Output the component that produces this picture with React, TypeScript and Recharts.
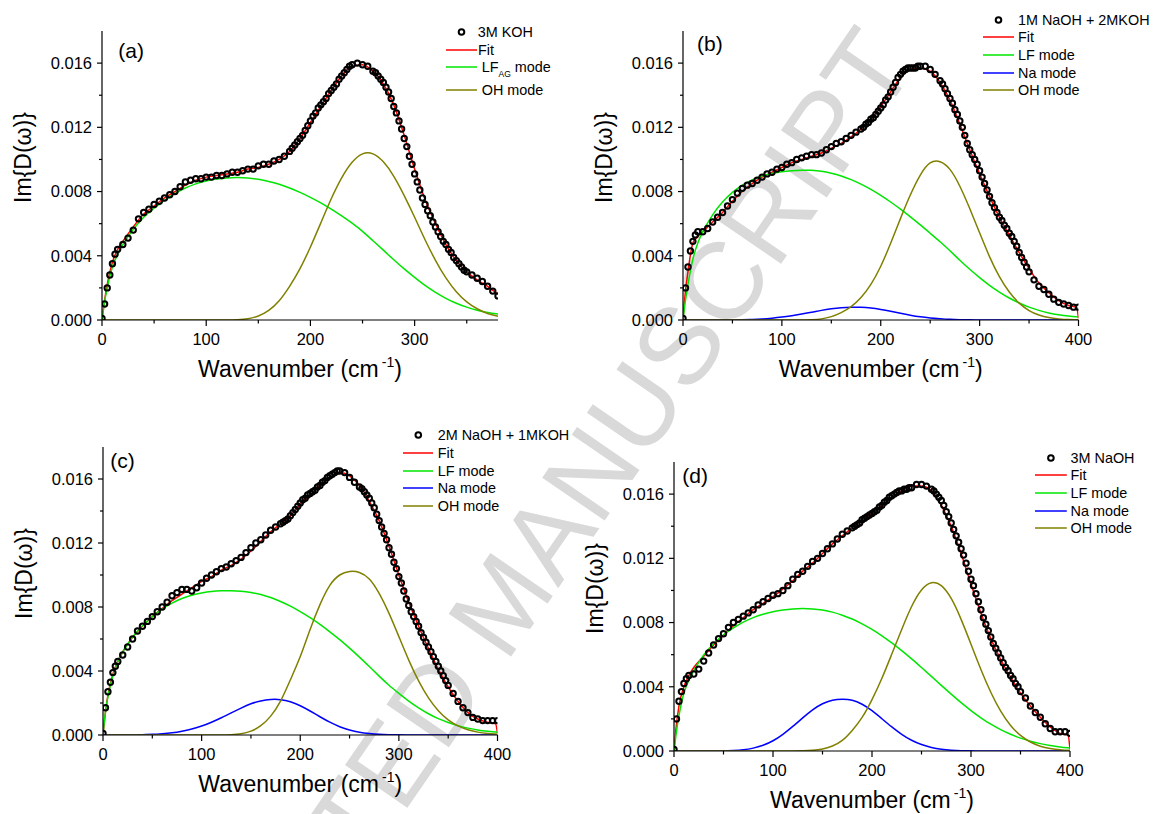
import React from "react";
import { ComposedChart, Scatter, Line, XAxis, YAxis, Label } from "recharts";

const FONT = "'Liberation Sans', Arial, sans-serif";

// x positions of the measured points (cm-1); denser where the spectra are steep
const dataGrid = [
  0, 2.5, 5, 7.5, 10, 12.5, 15,
  20, 25, 30, 35, 40, 45, 50, 55, 60, 65, 70, 75, 80, 85, 90, 95,
  100, 105, 110, 115, 120, 125, 130, 135, 140, 145, 150, 155, 160, 165, 170, 175,
  180, 182.5, 185, 187.5, 190, 192.5, 195, 197.5, 200, 202.5, 205, 207.5, 210, 212.5, 215, 217.5,
  220, 222.5, 225, 227.5, 230, 232.5, 235, 237.5, 240,
  245, 250, 255,
  260, 262.5, 265, 267.5, 270, 272.5, 275, 277.5, 280, 282.5, 285, 287.5, 290, 292.5, 295, 297.5,
  300, 302.5, 305, 307.5, 310, 312.5, 315, 317.5, 320, 322.5, 325, 327.5, 330, 332.5, 335, 337.5,
  340, 342.5, 345, 347.5, 350,
  355, 360, 365, 370, 375, 380, 385, 390, 395, 400,
];
// x positions of the fitted curves
const lineGridA = [
  0, 2, 5, 10, 15, 20,
  30, 40, 50, 60, 70, 80, 90, 100, 110, 120,
  130, 140, 150, 160, 170, 180, 190, 200, 210, 220,
  230, 240, 250, 260, 270, 280, 290, 300, 310, 320,
  330, 340, 350, 360, 370, 380,
];
const lineGrid = [
  0, 2, 5, 10, 15, 20,
  30, 40, 50, 60, 70, 80, 90, 100, 110, 120,
  130, 140, 150, 160, 170, 180, 190, 200, 210, 220,
  230, 240, 250, 260, 270, 280, 290, 300, 310, 320,
  330, 340, 350, 360, 370, 380, 390, 398, 400,
];

// (a) 3M KOH  (measured up to 380 cm-1)
const kohData = [
  0.0001, 0.0010, 0.0020, 0.0028, 0.0035, 0.0041, 0.0044,
  0.0047, 0.0051, 0.0056, 0.0063, 0.0067, 0.0069, 0.0072, 0.0074, 0.0076, 0.0078, 0.0080, 0.0083, 0.0086, 0.0087, 0.0088, 0.0088,
  0.0089, 0.0089, 0.0090, 0.0090, 0.0091, 0.0092, 0.0092, 0.0093, 0.0094, 0.0094, 0.0096, 0.0097, 0.0097, 0.0099, 0.0100, 0.0102,
  0.0105, 0.0107, 0.0109, 0.0111, 0.0113, 0.0115, 0.0118, 0.0121, 0.0124, 0.0127, 0.0129, 0.0132, 0.0134, 0.0136, 0.0138, 0.0141,
  0.0143, 0.0145, 0.0147, 0.0150, 0.0152, 0.0154, 0.0156, 0.0158, 0.0159,
  0.0160, 0.0159, 0.0158,
  0.0155, 0.0154, 0.0152, 0.0150, 0.0148, 0.0145, 0.0142, 0.0138, 0.0133, 0.0129, 0.0124, 0.0119, 0.0113, 0.0108, 0.0102, 0.0097,
  0.0091, 0.0086, 0.0081, 0.0076, 0.0072, 0.0068, 0.0065, 0.0061, 0.0058, 0.0055, 0.0052, 0.0049, 0.0047, 0.0044, 0.0042, 0.0039,
  0.0037, 0.0035, 0.0033, 0.0031, 0.0030,
  0.0028, 0.0026, 0.0024, 0.0021, 0.0018, 0.0015,
];
const kohFit = [
  0, 0.0010, 0.0022, 0.0036, 0.0044, 0.0049,
  0.0058, 0.0066, 0.0071, 0.0076, 0.0080, 0.0084, 0.0087, 0.0089, 0.0090, 0.0091,
  0.0092, 0.0094, 0.0095, 0.0097, 0.0100, 0.0105, 0.0113, 0.0123, 0.0133, 0.0143,
  0.0152, 0.0158, 0.0159, 0.0155, 0.0147, 0.0134, 0.0115, 0.0094, 0.0075, 0.0060,
  0.0047, 0.0037, 0.0030, 0.0025, 0.0021, 0.0016,
];
const kohLF = [
  0, 0.00095, 0.0020, 0.0033, 0.0041, 0.0047,
  0.00565, 0.0064, 0.00697, 0.00745, 0.00788, 0.00822, 0.00848, 0.00866, 0.00878, 0.00885,
  0.00887, 0.00884, 0.00876, 0.00863, 0.00845, 0.00822, 0.00795, 0.00764, 0.00729, 0.0069,
  0.00648, 0.00603, 0.00552, 0.00494, 0.00435, 0.00375, 0.00318, 0.00265, 0.00215, 0.00172,
  0.00135, 0.00104, 0.0008, 0.00061, 0.00047, 0.00037,
];
const kohOH = [
  0, 0, 0, 0, 0, 0,
  0, 0, 0, 0, 0, 0, 0, 0, 0, 0,
  0.00002, 0.00008, 0.00025, 0.0006, 0.0012, 0.0021, 0.0032, 0.00455, 0.00605, 0.00755,
  0.00885, 0.00982, 0.01035, 0.01035, 0.00985, 0.00895, 0.00775, 0.0064, 0.005, 0.00372,
  0.00262, 0.00176, 0.00113, 0.0007, 0.00041, 0.00023,
];

// (b) 1M NaOH + 2M KOH
const na1Data = [
  0.0001, 0.0020, 0.0033, 0.0043, 0.0049, 0.0053, 0.0055,
  0.0055, 0.0057, 0.0061, 0.0064, 0.0067, 0.0071, 0.0075, 0.0079, 0.0082, 0.0084, 0.0085, 0.0087, 0.0089, 0.0091, 0.0092, 0.0094,
  0.0095, 0.0097, 0.0098, 0.0100, 0.0101, 0.0102, 0.0103, 0.0103, 0.0104, 0.0106, 0.0108, 0.0110, 0.0111, 0.0113, 0.0115, 0.0117,
  0.0119, 0.0120, 0.0122, 0.0123, 0.0125, 0.0126, 0.0128, 0.0130, 0.0132, 0.0134, 0.0137, 0.0139, 0.0142, 0.0145, 0.0148, 0.0151,
  0.0153, 0.0155, 0.0156, 0.0157, 0.0157, 0.0157, 0.0157, 0.0158, 0.0158,
  0.0158, 0.0156, 0.0153,
  0.0149, 0.0147, 0.0144, 0.0141, 0.0138, 0.0135, 0.0131, 0.0128, 0.0124, 0.0120, 0.0115, 0.0110, 0.0106, 0.0103, 0.0100, 0.0097,
  0.0093, 0.0089, 0.0085, 0.0081, 0.0077, 0.0073, 0.0070, 0.0067, 0.0064, 0.0062, 0.0059, 0.0057, 0.0054, 0.0052, 0.0049, 0.0046,
  0.0042, 0.0039, 0.0036, 0.0033, 0.0030,
  0.0025, 0.0021, 0.0019, 0.0016, 0.0013, 0.0011, 0.0010, 0.0009, 0.0008, 0.0008,
];
const na1Fit = [
  0, 0.0015, 0.0030, 0.0048, 0.0052, 0.0055,
  0.0061, 0.0067, 0.0074, 0.0080, 0.0085, 0.0089, 0.0092, 0.0095, 0.0098, 0.0100,
  0.0102, 0.0104, 0.0107, 0.0110, 0.0114, 0.0119, 0.0125, 0.0133, 0.0142, 0.0151,
  0.0156, 0.0157, 0.0155, 0.0148, 0.0137, 0.0122, 0.0106, 0.0091, 0.0077, 0.0064,
  0.0053, 0.0042, 0.0032, 0.0023, 0.0017, 0.0012, 0.0009, 0.0008, 0.0001,
];
const na1LF = [
  0, 0.001, 0.0022, 0.0038, 0.0048, 0.0055,
  0.00655, 0.00735, 0.00795, 0.0084, 0.00873, 0.00897, 0.00913, 0.00924, 0.0093, 0.00933,
  0.00932, 0.00926, 0.00914, 0.00897, 0.00874, 0.00846, 0.00813, 0.00776, 0.00735, 0.0069,
  0.00642, 0.00592, 0.0054, 0.00487, 0.00431, 0.00372, 0.00316, 0.00264, 0.00216, 0.00174,
  0.00137, 0.00106, 0.0008, 0.0006, 0.00044, 0.00033, 0.00025, 0.0002, 0.00019,
];
const na1Na = [
  0, 0, 0, 0, 0, 0,
  0, 0, 0, 0.00001, 0.00003, 0.00006, 0.00011, 0.00018, 0.00027, 0.00037,
  0.00048, 0.0006, 0.0007, 0.00077, 0.0008, 0.00079, 0.00074, 0.00065, 0.00054, 0.00042,
  0.0003, 0.0002, 0.00013, 0.00008, 0.00004, 0.00002, 0.00001, 0, 0, 0,
  0, 0, 0, 0, 0, 0, 0, 0, 0,
];
const na1OH = [
  0, 0, 0, 0, 0, 0,
  0, 0, 0, 0, 0, 0, 0, 0, 0, 0,
  0.00002, 0.00007, 0.00021, 0.00046, 0.00083, 0.0014, 0.00222, 0.00335, 0.00478, 0.00633,
  0.0078, 0.00903, 0.00978, 0.00986, 0.00938, 0.00833, 0.00694, 0.00543, 0.00395, 0.0027,
  0.00174, 0.00105, 0.00059, 0.00031, 0.00015, 0.00007, 0.00003, 0.00002, 0.00001,
];

// (c) 2M NaOH + 1M KOH
const na2Data = [
  0.0001, 0.0017, 0.0027, 0.0033, 0.0039, 0.0043, 0.0046,
  0.0050, 0.0055, 0.0060, 0.0065, 0.0068, 0.0071, 0.0074, 0.0077, 0.0080, 0.0083, 0.0087, 0.0089, 0.0091, 0.0091, 0.0090, 0.0092,
  0.0095, 0.0098, 0.0100, 0.0102, 0.0104, 0.0105, 0.0107, 0.0109, 0.0111, 0.0114, 0.0117, 0.0120, 0.0122, 0.0125, 0.0128, 0.0130,
  0.0132, 0.0133, 0.0134, 0.0135, 0.0137, 0.0139, 0.0141, 0.0143, 0.0145, 0.0147, 0.0148, 0.0150, 0.0151, 0.0152, 0.0153, 0.0155,
  0.0156, 0.0158, 0.0159, 0.0161, 0.0162, 0.0163, 0.0164, 0.0165, 0.0165,
  0.0164, 0.0161, 0.0158,
  0.0155, 0.0154, 0.0152, 0.0150, 0.0148, 0.0145, 0.0142, 0.0138, 0.0134, 0.0130, 0.0126, 0.0122, 0.0117, 0.0113, 0.0108, 0.0104,
  0.0099, 0.0095, 0.0090, 0.0085, 0.0081, 0.0077, 0.0074, 0.0071, 0.0068, 0.0064, 0.0061, 0.0058, 0.0055, 0.0052, 0.0049, 0.0046,
  0.0043, 0.0040, 0.0037, 0.0034, 0.0031,
  0.0026, 0.0021, 0.0017, 0.0014, 0.0011, 0.0010, 0.0009, 0.0009, 0.0009, 0.0009,
];
const na2Fit = [
  0, 0.0012, 0.0025, 0.0038, 0.0046, 0.0052,
  0.0061, 0.0068, 0.0074, 0.0079, 0.0084, 0.0088, 0.0092, 0.0096, 0.0099, 0.0103,
  0.0106, 0.0110, 0.0115, 0.0121, 0.0127, 0.0132, 0.0137, 0.0144, 0.0150, 0.0156,
  0.0161, 0.0164, 0.0162, 0.0156, 0.0146, 0.0134, 0.0118, 0.0100, 0.0083, 0.0068,
  0.0054, 0.0041, 0.0030, 0.0021, 0.0014, 0.0010, 0.0008, 0.0007, 0.0001,
];
const na2LF = [
  0, 0.0012, 0.0024, 0.0037, 0.0046, 0.0052,
  0.00612, 0.00683, 0.0074, 0.00787, 0.00824, 0.00853, 0.00874, 0.00888, 0.00897, 0.00901,
  0.00902, 0.00899, 0.00891, 0.00878, 0.00859, 0.00834, 0.00805, 0.00771, 0.00733, 0.00691,
  0.00645, 0.00596, 0.00543, 0.00487, 0.00428, 0.00368, 0.00311, 0.0026, 0.00212, 0.0017,
  0.00133, 0.00102, 0.00078, 0.00058, 0.00043, 0.00031, 0.00023, 0.00018, 0.00017,
];
const na2Na = [
  0, 0, 0, 0, 0, 0,
  0, 0.00002, 0.00004, 0.00008, 0.00014, 0.00024, 0.00038, 0.00056, 0.0008, 0.00108,
  0.00138, 0.00168, 0.00195, 0.00213, 0.00222, 0.00221, 0.00208, 0.00183, 0.0015, 0.00114,
  0.0008, 0.00052, 0.00031, 0.00017, 0.00009, 0.00004, 0.00002, 0.00001, 0, 0,
  0, 0, 0, 0, 0, 0, 0, 0, 0,
];
const na2OH = [
  0, 0, 0, 0, 0, 0,
  0, 0, 0, 0, 0, 0, 0, 0, 0, 0,
  0.00002, 0.00008, 0.00024, 0.00058, 0.00118, 0.00212, 0.00345, 0.0049, 0.0066, 0.00815,
  0.00935, 0.01, 0.01022, 0.01016, 0.00975, 0.00885, 0.0076, 0.00615, 0.00468, 0.00338,
  0.00232, 0.00152, 0.00095, 0.00057, 0.00033, 0.00018, 0.0001, 0.00006, 0.00005,
];

// (d) 3M NaOH
const naData = [
  0.0001, 0.0020, 0.0031, 0.0037, 0.0042, 0.0045, 0.0047,
  0.0048, 0.0051, 0.0056, 0.0061, 0.0066, 0.0070, 0.0073, 0.0077, 0.0080, 0.0082, 0.0084, 0.0086, 0.0088, 0.0091, 0.0093, 0.0095,
  0.0097, 0.0098, 0.0100, 0.0103, 0.0107, 0.0110, 0.0112, 0.0115, 0.0118, 0.0120, 0.0123, 0.0126, 0.0129, 0.0132, 0.0135, 0.0137,
  0.0139, 0.0140, 0.0141, 0.0142, 0.0144, 0.0145, 0.0146, 0.0147, 0.0148, 0.0149, 0.0150, 0.0152, 0.0153, 0.0155, 0.0156, 0.0158,
  0.0159, 0.0160, 0.0161, 0.0162, 0.0162, 0.0163, 0.0163, 0.0164, 0.0164,
  0.0166, 0.0166, 0.0165,
  0.0163, 0.0162, 0.0160, 0.0158, 0.0156, 0.0153, 0.0149, 0.0146, 0.0142, 0.0138, 0.0134, 0.0130, 0.0126, 0.0122, 0.0117, 0.0112,
  0.0107, 0.0103, 0.0098, 0.0093, 0.0088, 0.0083, 0.0079, 0.0075, 0.0071, 0.0067, 0.0064, 0.0061, 0.0058, 0.0055, 0.0052, 0.0050,
  0.0047, 0.0045, 0.0042, 0.0040, 0.0037,
  0.0033, 0.0028, 0.0024, 0.0021, 0.0017, 0.0014, 0.0012, 0.0012, 0.0012, 0.0011,
];
const naFit = [
  0, 0.0014, 0.0028, 0.0040, 0.0047, 0.0052,
  0.0059, 0.0066, 0.0072, 0.0078, 0.0083, 0.0088, 0.0092, 0.0096, 0.0101, 0.0106,
  0.0112, 0.0117, 0.0123, 0.0129, 0.0134, 0.0139, 0.0144, 0.0148, 0.0153, 0.0158,
  0.0162, 0.0165, 0.0165, 0.0162, 0.0153, 0.0140, 0.0123, 0.0104, 0.0086, 0.0070,
  0.0057, 0.0046, 0.0036, 0.0028, 0.0021, 0.0015, 0.0011, 0.0010, 0.0001,
];
const naLF = [
  0, 0.001, 0.0022, 0.0036, 0.0044, 0.005,
  0.00598, 0.00668, 0.00723, 0.00767, 0.00803, 0.00831, 0.00852, 0.00867, 0.00878, 0.00885,
  0.00887, 0.00885, 0.00878, 0.00865, 0.00846, 0.00822, 0.00792, 0.00757, 0.00717, 0.00673,
  0.00625, 0.00574, 0.0052, 0.00465, 0.00409, 0.00354, 0.00301, 0.00252, 0.00207, 0.00167,
  0.00133, 0.00104, 0.0008, 0.00061, 0.00046, 0.00034, 0.00025, 0.0002, 0.00019,
];
const naNa = [
  0, 0, 0, 0, 0, 0,
  0, 0, 0, 0.00003, 0.00008, 0.00018, 0.00036, 0.00064, 0.00104, 0.00153,
  0.00206, 0.00256, 0.00294, 0.00316, 0.00322, 0.00316, 0.00291, 0.00251, 0.00201, 0.0015,
  0.00104, 0.00067, 0.0004, 0.00022, 0.00011, 0.00005, 0.00002, 0.00001, 0, 0,
  0, 0, 0, 0, 0, 0, 0, 0, 0,
];
const naOH = [
  0, 0, 0, 0, 0, 0,
  0, 0, 0, 0, 0, 0, 0, 0, 0, 0,
  0.00001, 0.00004, 0.00012, 0.00031, 0.00066, 0.00128, 0.00209, 0.0032, 0.00453, 0.00604,
  0.00757, 0.009, 0.01003, 0.01048, 0.0103, 0.0095, 0.0082, 0.00665, 0.00508, 0.00366,
  0.00248, 0.00159, 0.00097, 0.00056, 0.0003, 0.00016, 0.00008, 0.00004, 0.00004,
];

const yTicks = [0, 0.002, 0.004, 0.006, 0.008, 0.01, 0.012, 0.014, 0.016];
const xTicksA = [0, 50, 100, 150, 200, 250, 300, 350];
const xTicks = [0, 50, 100, 150, 200, 250, 300, 350, 400];

const RED = "#ff0000";
const GREEN = "#00e600";
const BLUE = "#0000ff";
const OLIVE = "#808000";

// pairs x values with y values (the shorter list wins)
const toPoints = (xs: number[], ys: number[]) =>
  ys.map((y, i) => ({ x: xs[i], y }));

const LEFT_PAD = 100;
const TOP_PAD = 40;
const RIGHT_PAD = 20;
const BOTTOM_PAD = 75;

type Curve = { name: string; color: string; values: number[]; smooth: "monotone" | "natural" };
type LegendItem = { kind: "dot" | "line"; color: string; label: React.ReactNode };
type PanelSpec = {
  key: string;
  letter: string;
  plot: [number, number, number, number]; // left, top, width, height (page px)
  letterAt: [number, number];
  xMax: number;
  xTicks: number[];
  dataY: number[];
  lineX: number[];
  curves: Curve[];
  legend: { iconLeft: number; iconWidth: number; textLeft: number[]; rows: number[]; items: LegendItem[] };
};

const lfAg = (
  <>
    LF<span style={{ fontSize: 8.5, position: "relative", top: 5 }}>AG</span> mode
  </>
);

const panels: PanelSpec[] = [
  {
    key: "a",
    letter: "(a)",
    plot: [102, 31, 396, 289],
    letterAt: [118.3, 57.5],
    xMax: 380,
    xTicks: xTicksA,
    dataY: kohData,
    lineX: lineGridA,
    curves: [
      { name: "Fit", color: RED, values: kohFit, smooth: "monotone" },
      { name: "LF", color: GREEN, values: kohLF, smooth: "natural" },
      { name: "OH", color: OLIVE, values: kohOH, smooth: "natural" },
    ],
    legend: {
      iconLeft: 445.7,
      iconWidth: 31,
      textLeft: [477.7, 478, 481.7, 481.7],
      rows: [32.3, 50, 67, 90],
      items: [
        { kind: "dot", color: "#000", label: "3M KOH" },
        { kind: "line", color: RED, label: "Fit" },
        { kind: "line", color: GREEN, label: lfAg },
        { kind: "line", color: OLIVE, label: "OH mode" },
      ],
    },
  },
  {
    key: "b",
    letter: "(b)",
    plot: [682.5, 31, 395.5, 289],
    letterAt: [696.5, 51],
    xMax: 400,
    xTicks,
    dataY: na1Data,
    lineX: lineGrid,
    curves: [
      { name: "Fit", color: RED, values: na1Fit, smooth: "monotone" },
      { name: "LF", color: GREEN, values: na1LF, smooth: "natural" },
      { name: "Na", color: BLUE, values: na1Na, smooth: "natural" },
      { name: "OH", color: OLIVE, values: na1OH, smooth: "natural" },
    ],
    legend: {
      iconLeft: 982.6,
      iconWidth: 31,
      textLeft: [1018, 1018, 1018, 1018, 1018],
      rows: [20, 36.7, 55, 72.7, 90],
      items: [
        { kind: "dot", color: "#000", label: "1M NaOH + 2MKOH" },
        { kind: "line", color: RED, label: "Fit" },
        { kind: "line", color: GREEN, label: "LF mode" },
        { kind: "line", color: BLUE, label: "Na mode" },
        { kind: "line", color: OLIVE, label: "OH mode" },
      ],
    },
  },
  {
    key: "c",
    letter: "(c)",
    plot: [103, 447, 394.5, 288],
    letterAt: [110.2, 467.6],
    xMax: 400,
    xTicks,
    dataY: na2Data,
    lineX: lineGrid,
    curves: [
      { name: "Fit", color: RED, values: na2Fit, smooth: "monotone" },
      { name: "LF", color: GREEN, values: na2LF, smooth: "natural" },
      { name: "Na", color: BLUE, values: na2Na, smooth: "natural" },
      { name: "OH", color: OLIVE, values: na2OH, smooth: "natural" },
    ],
    legend: {
      iconLeft: 402.7,
      iconWidth: 30.6,
      textLeft: [437.7, 437.7, 437.7, 437.7, 437.7],
      rows: [435, 452.7, 471, 488.3, 506],
      items: [
        { kind: "dot", color: "#000", label: "2M NaOH + 1MKOH" },
        { kind: "line", color: RED, label: "Fit" },
        { kind: "line", color: GREEN, label: "LF mode" },
        { kind: "line", color: BLUE, label: "Na mode" },
        { kind: "line", color: OLIVE, label: "OH mode" },
      ],
    },
  },
  {
    key: "d",
    letter: "(d)",
    plot: [673.5, 462, 396, 289],
    letterAt: [681.8, 482.6],
    xMax: 400,
    xTicks,
    dataY: naData,
    lineX: lineGrid,
    curves: [
      { name: "Fit", color: RED, values: naFit, smooth: "monotone" },
      { name: "LF", color: GREEN, values: naLF, smooth: "natural" },
      { name: "Na", color: BLUE, values: naNa, smooth: "natural" },
      { name: "OH", color: OLIVE, values: naOH, smooth: "natural" },
    ],
    legend: {
      iconLeft: 1035,
      iconWidth: 31.8,
      textLeft: [1070.5, 1070.5, 1070.5, 1070.5, 1070.5],
      rows: [457.7, 475.3, 493.3, 511, 528.3],
      items: [
        { kind: "dot", color: "#000", label: "3M NaOH" },
        { kind: "line", color: RED, label: "Fit" },
        { kind: "line", color: GREEN, label: "LF mode" },
        { kind: "line", color: BLUE, label: "Na mode" },
        { kind: "line", color: OLIVE, label: "OH mode" },
      ],
    },
  },
];

function makeYTick(ax: number) {
  return (p: any) => {
    const v = p.payload.value as number;
    const major = Math.abs(v / 0.004 - Math.round(v / 0.004)) < 1e-6;
    return (
      <g>
        <line x1={ax} x2={ax - (major ? 5 : 3)} y1={p.y} y2={p.y} stroke="#000" strokeWidth={1.2} />
        {major && (
          <text x={ax - 10} y={p.y} dy="0.36em" textAnchor="end" fontSize={16.5} fontFamily={FONT} fill="#000">
            {v.toFixed(3)}
          </text>
        )}
      </g>
    );
  };
}

function makeXTick(ay: number) {
  return (p: any) => {
    const v = p.payload.value as number;
    const major = v % 100 === 0;
    return (
      <g>
        <line x1={p.x} x2={p.x} y1={ay} y2={ay + (major ? 6 : 3.5)} stroke="#000" strokeWidth={1.2} />
        {major && (
          <text x={p.x} y={ay + 25} textAnchor="middle" fontSize={16.5} fontFamily={FONT} fill="#000">
            {v}
          </text>
        )}
      </g>
    );
  };
}

function Panel({ spec }: { spec: PanelSpec }) {
  const [pl, pt, pw, ph] = spec.plot;
  const width = pw + LEFT_PAD + RIGHT_PAD;
  const height = ph + TOP_PAD + BOTTOM_PAD;
  const ax = LEFT_PAD;
  const ay = TOP_PAD + ph;
  const dots = toPoints(dataGrid, spec.dataY);

  return (
    <div style={{ position: "absolute", left: pl - LEFT_PAD, top: pt - TOP_PAD }}>
      <ComposedChart width={width} height={height} margin={{ top: TOP_PAD, right: RIGHT_PAD, bottom: 0, left: 0 }}>
        <XAxis
          type="number"
          dataKey="x"
          domain={[0, spec.xMax]}
          ticks={spec.xTicks}
          interval={0}
          height={BOTTOM_PAD}
          allowDataOverflow
          axisLine={{ stroke: "#000", strokeWidth: 1.2 }}
          tickLine={false}
          tick={makeXTick(ay)}
        >
          <Label
            content={() => (
              <text x={ax + pw / 2} y={ay + 57} textAnchor="middle" fontSize={23} fontFamily={FONT} fill="#000">
                Wavenumber (cm
                <tspan fontSize={14} dx={3} dy={-10}>
                  -1
                </tspan>
                <tspan dy={10}>)</tspan>
              </text>
            )}
          />
        </XAxis>
        <YAxis
          type="number"
          dataKey="y"
          domain={[0, 0.018]}
          ticks={yTicks}
          interval={0}
          width={LEFT_PAD}
          allowDataOverflow
          axisLine={{ stroke: "#000", strokeWidth: 1.2 }}
          tickLine={false}
          tick={makeYTick(ax)}
        >
          <Label
            content={() => (
              <text
                transform={`translate(${ax - 71.5}, ${TOP_PAD + 126.5}) rotate(-90)`}
                textAnchor="middle"
                fontSize={23}
                fontFamily={FONT}
                fill="#000"
              >
                {"Im{D(ω)}"}
              </text>
            )}
          />
          <Label
            content={() => (
              <text
                x={ax + (spec.letterAt[0] - pl)}
                y={TOP_PAD + (spec.letterAt[1] - pt)}
                fontSize={21}
                fontFamily={FONT}
                fill="#000"
              >
                {spec.letter}
              </text>
            )}
          />
        </YAxis>
        <Scatter
          data={dots}
          isAnimationActive={false}
          shape={(p: any) => <circle cx={p.cx} cy={p.cy} r={2.7} fill="none" stroke="#000" strokeWidth={2} />}
        />
        {spec.curves.map((c) => (
          <Line
            key={c.name}
            data={toPoints(spec.lineX, c.values)}
            dataKey="y"
            type={c.smooth}
            stroke={c.color}
            strokeWidth={1.5}
            dot={false}
            activeDot={false}
            isAnimationActive={false}
          />
        ))}
      </ComposedChart>
    </div>
  );
}

function LegendOverlay({ spec }: { spec: PanelSpec }) {
  const lg = spec.legend;
  return (
    <>
      {lg.items.map((it, i) => (
        <div
          key={i}
          style={{
            position: "absolute",
            left: lg.iconLeft,
            top: lg.rows[i] - 9,
            height: 18,
            lineHeight: "18px",
            whiteSpace: "nowrap",
            fontFamily: FONT,
            fontSize: 14.4,
            color: "#000",
          }}
        >
          <svg width={lg.iconWidth} height={18} style={{ position: "absolute", left: 0, top: 0 }}>
            {it.kind === "dot" ? (
              <circle cx={lg.iconWidth / 2} cy={9} r={2.8} fill="none" stroke={it.color} strokeWidth={2} />
            ) : (
              <line x1={0} x2={lg.iconWidth} y1={9} y2={9} stroke={it.color} strokeWidth={1.5} />
            )}
          </svg>
          <span style={{ position: "absolute", left: lg.textLeft[i] - lg.iconLeft, top: 0 }}>{it.label}</span>
        </div>
      ))}
    </>
  );
}

export default function App() {
  return (
    <div
      style={{
        position: "absolute",
        left: 0,
        top: 0,
        width: 1154,
        height: 814,
        overflow: "hidden",
        background: "#fff",
        fontFamily: FONT,
      }}
    >
      {/* manuscript watermark, runs off the page like in the source */}
      <svg width={1154} height={814} style={{ position: "absolute", left: 0, top: 0 }}>
        <text
          transform="translate(502, 602) rotate(-55.5)"
          textAnchor="middle"
          dominantBaseline="central"
          fontSize={110}
          fontFamily={FONT}
          fill="#d9d9d9"
        >
          ACCEPTED MANUSCRIPT
        </text>
      </svg>
      {panels.map((p) => (
        <Panel key={p.key} spec={p} />
      ))}
      {panels.map((p) => (
        <LegendOverlay key={"lg" + p.key} spec={p} />
      ))}
    </div>
  );
}
